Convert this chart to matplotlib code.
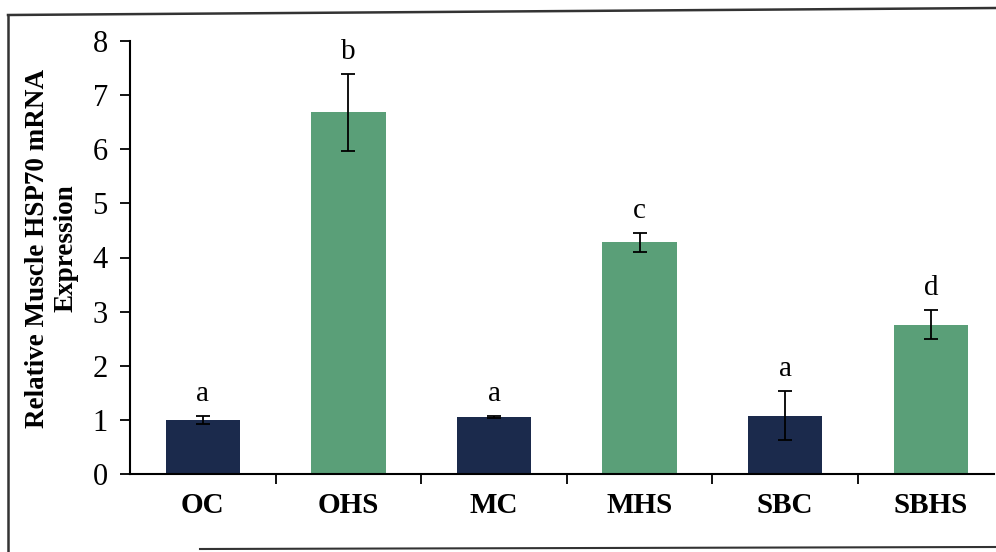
import matplotlib.pyplot as plt
import numpy as np
from matplotlib.lines import Line2D

groups = ["OC", "OHS", "MC", "MHS", "SBC", "SBHS"]
expression = [1.0, 6.68, 1.05, 4.28, 1.08, 2.76]
sem = [0.08, 0.71, 0.02, 0.18, 0.46, 0.27]
letters = ["a", "b", "a", "c", "a", "d"]

navy = "#1b2a4c"
green = "#5a9f78"
colors = [navy, green, navy, green, navy, green]

plt.rcParams["font.family"] = ["Liberation Serif", "DejaVu Serif"]

fig = plt.figure(figsize=(9.96, 5.52), dpi=100)
ax = fig.add_axes([130 / 996, 1 - 474 / 552, 864 / 996, 433 / 552])

x = np.arange(len(groups))
ax.bar(x, expression, width=0.51, color=colors, zorder=2)
ax.errorbar(x, expression, yerr=sem, fmt="none", ecolor="black",
            elinewidth=1.3, capsize=5, capthick=1.3, zorder=3)

for xi, val, err, lab in zip(x, expression, sem, letters):
    ax.text(xi, val + err + 0.16, lab, ha="center", va="bottom", fontsize=21)

ax.set_xlim(-0.5, -0.5 + 864 / 145.6)
ax.set_ylim(0, 8)
ax.set_yticks(range(0, 9))
ax.tick_params(axis="y", labelsize=22, direction="out", length=7, width=1.3, pad=9)

# category labels sit between ticks placed at group boundaries
ax.set_xticks(np.arange(0.5, len(groups) - 0.5, 1.0))
ax.set_xticklabels([])
ax.tick_params(axis="x", direction="out", length=7, width=1.3)
for xi, g in zip(x, groups):
    ax.text(xi, -0.33, g, ha="center", va="top", fontsize=21, fontweight="bold")

ax.spines["top"].set_visible(False)
ax.spines["right"].set_visible(False)
ax.spines["left"].set_linewidth(1.5)
ax.spines["bottom"].set_linewidth(1.5)

fig.text(38 / 996, 1 - 248 / 552, "Relative Muscle HSP70 mRNA", rotation=90,
         ha="center", va="center", fontsize=19.5, fontweight="bold")
fig.text(66 / 996, 1 - 248 / 552, "Expression", rotation=90,
         ha="center", va="center", fontsize=19.5, fontweight="bold")

# scanned frame around the figure
border = "#333333"
fig.add_artist(Line2D([8 / 996, 8 / 996], [0, 1 - 15 / 552], color=border, lw=1.8))
fig.add_artist(Line2D([8 / 996, 1], [1 - 15 / 552, 1 - 8 / 552], color=border, lw=1.8))
fig.add_artist(Line2D([200 / 996, 1], [1 - 549 / 552, 1 - 547 / 552], color=border, lw=1.5))

fig.savefig("out.png", dpi=100)
